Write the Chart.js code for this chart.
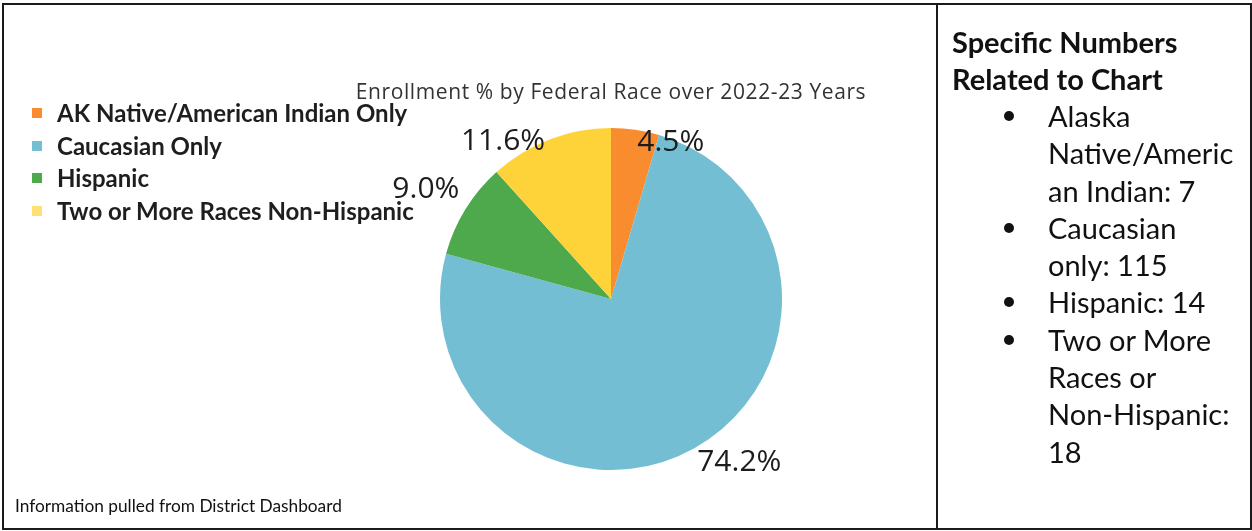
<!DOCTYPE html>
<html>
<head>
<meta charset="utf-8">
<script src="https://cdn.jsdelivr.net/npm/chart.js@4"></script>
<style>
  html, body { margin: 0; padding: 0; background: #fff; }
  body { width: 1252px; height: 531px; position: relative; overflow: hidden; font-family: Lato, "Noto Sans", sans-serif; }
  #frame { position: absolute; left: 2px; top: 3px; width: 1246px; height: 523px; border: 2px solid #1a1a1a; box-sizing: content-box; }
  #divider { position: absolute; left: 936px; top: 3px; width: 2px; height: 525px; background: #1a1a1a; }
  #pie { position: absolute; left: 0; top: 0; }
  #title { position: absolute; left: 340px; top: 77px; width: 542px; text-align: center; font-family: "Open Sans", sans-serif; font-size: 21px; letter-spacing: 0.6px; color: #333; white-space: nowrap; }
  #legend { position: absolute; left: 32px; top: 97px; }
  .lg { height: 32.5px; line-height: 32.5px; font-weight: 700; font-size: 24px; color: #1e1e1e; white-space: nowrap; position: relative; padding-left: 25px; }
  .lg i { position: absolute; left: 0; top: 11px; width: 10px; height: 10px; }
  #note { position: absolute; left: 15px; top: 495px; font-size: 17.3px; color: #111; white-space: nowrap; }
  #side { position: absolute; left: 952px; top: 23px; color: #111; }
  #side h2 { margin: 0; font-size: 29px; font-weight: 700; line-height: 37px; }
  #side ul { list-style: none; margin: 0; padding: 0; }
  #side li { position: relative; padding-left: 96px; font-size: 29px; line-height: 37.3px; }
  #side li::before { content: ""; position: absolute; left: 52px; top: 14px; width: 10px; height: 10px; border-radius: 50%; background: #111; }
</style>
</head>
<body>
<canvas id="pie" width="1252" height="531"></canvas>
<div id="frame"></div>
<div id="divider"></div>
<div id="title"></div>
<div id="legend"></div>
<div id="note">Information pulled from District Dashboard</div>
<div id="side">
  <h2>Specific Numbers<br>Related to Chart</h2>
  <ul id="counts"></ul>
</div>
<script>
// Enrollment share by federal race, 2022-23
const categories = ['AK Native/American Indian Only', 'Caucasian Only', 'Hispanic', 'Two or More Races Non-Hispanic'];
const enrollmentPct = [4.5, 74.2, 9.0, 11.6];
const studentCounts = [7, 115, 14, 18];
const chartTitle = 'Enrollment % by Federal Race over 2022-23 Years';

const sliceColors = ['#f98c2f', '#74bed3', '#4ea84c', '#fdd339'];
// label placement: angular shift (degrees) from slice middle, and distance as a fraction of the radius
const labelShift = [12.7, -8.9, -1.1, -13.4];
const labelDist = [0.982, 1.216, 1.257, 1.117];

document.getElementById('title').textContent = chartTitle;

const legend = document.getElementById('legend');
categories.forEach((c, i) => {
  const row = document.createElement('div');
  row.className = 'lg';
  row.innerHTML = '<i style="background:' + sliceColors[i] + (i === 3 ? ';opacity:0.7' : '') + '"></i>';
  row.appendChild(document.createTextNode(c));
  legend.appendChild(row);
});

// side panel, wrapped as in the document layout
const sideLines = [
  ['Alaska', 'Native/Americ', 'an Indian: ' + studentCounts[0]],
  ['Caucasian', 'only: ' + studentCounts[1]],
  ['Hispanic: ' + studentCounts[2]],
  ['Two or More', 'Races or', 'Non-Hispanic:', String(studentCounts[3])]
];
const ul = document.getElementById('counts');
sideLines.forEach(lines => {
  const li = document.createElement('li');
  li.innerHTML = lines.join('<br>');
  ul.appendChild(li);
});

const pctLabels = {
  id: 'pctLabels',
  afterDatasetsDraw(chart) {
    const ctx = chart.ctx;
    const meta = chart.getDatasetMeta(0);
    ctx.save();
    ctx.font = '500 30px "Open Sans", sans-serif';
    ctx.fillStyle = '#1c1c1c';
    ctx.textAlign = 'center';
    ctx.textBaseline = 'middle';
    meta.data.forEach((arc, i) => {
      const p = arc.getProps(['x', 'y', 'startAngle', 'endAngle', 'outerRadius'], true);
      const a = (p.startAngle + p.endAngle) / 2 + labelShift[i] * Math.PI / 180;
      const d = p.outerRadius * labelDist[i];
      const v = chart.data.datasets[0].data[i];
      ctx.fillText(v.toFixed(1) + '%', p.x + Math.cos(a) * d, p.y + Math.sin(a) * d);
    });
    ctx.restore();
  }
};

new Chart(document.getElementById('pie'), {
  type: 'pie',
  data: {
    labels: categories,
    datasets: [{
      data: enrollmentPct,
      backgroundColor: sliceColors,
      borderWidth: 0
    }]
  },
  options: {
    responsive: false,
    devicePixelRatio: 1,
    animation: false,
    layout: { padding: { left: 440, right: 470, top: 128, bottom: 61 } },
    plugins: {
      legend: { display: false },
      tooltip: { enabled: false }
    }
  },
  plugins: [pctLabels]
});
</script>
</body>
</html>
